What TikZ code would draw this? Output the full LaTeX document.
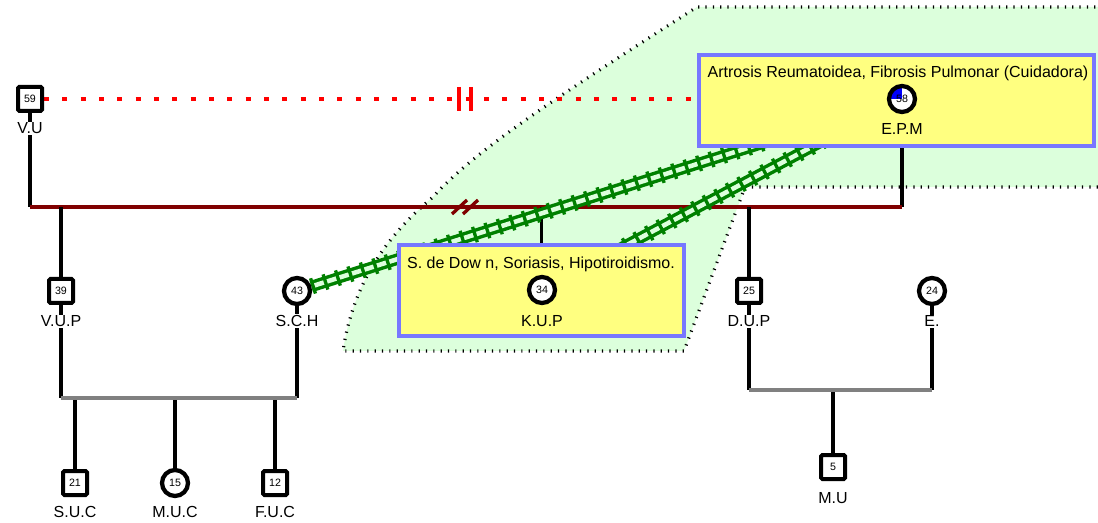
\documentclass[tikz,border=0pt]{standalone}
\usepackage{fontspec}
\setmainfont{Liberation Sans}
\usetikzlibrary{backgrounds}

\definecolor{areagreen}{RGB}{220,255,220}
\definecolor{trackgreen}{RGB}{0,128,0}
\definecolor{boxyellow}{RGB}{255,255,128}
\definecolor{boxblue}{RGB}{119,119,255}
\definecolor{uniondark}{RGB}{128,0,0}
\definecolor{sibsgray}{RGB}{128,128,128}

\tikzset{
  male/.style     = {draw, fill=white, line width=3pt, minimum size=18pt,
                     rounded corners=1pt, inner sep=0pt,
                     font=\fontsize{8}{9}\selectfont},
  female/.style   = {circle, draw, fill=white, line width=3.2pt, minimum size=19.5pt,
                     inner sep=0pt, font=\fontsize{8}{9}\selectfont},
  persname/.style = {anchor=base, fill=white, inner sep=1pt,
                     font=\fontsize{12}{14}\selectfont},
  boxtext/.style  = {anchor=base, inner sep=0pt, font=\fontsize{12}{14}\selectfont},
  illbox/.style   = {draw=boxblue, fill=boxyellow, line width=3pt,
                     minimum height=68.25pt},
  descent/.style  = {line width=2.6pt},
  union/.style    = {draw=uniondark, line width=3pt},
  sibs/.style     = {draw=sibsgray, line width=3pt},
  cutoff/.style   = {draw=red, line width=3pt, dash pattern=on 3.75pt off 10pt},
  cutbar/.style   = {draw=red, line width=3pt},
  splitmark/.style= {draw=uniondark, line width=2.5pt},
  rails/.style    = {draw=trackgreen, line width=2.6pt, double=areagreen,
                     double distance=3.4pt},
  ties/.style     = {draw=trackgreen, line width=12pt,
                     dash pattern=on 2.5pt off 7.3pt},
  grouparea/.style= {fill=areagreen, draw=black, line width=2.4pt,
                     dash pattern=on 0.9pt off 4.6pt}
}

\begin{document}
\begin{tikzpicture}[x=0.75pt, y=-0.75pt]

\useasboundingbox (0,0) rectangle (1098,523);

% generation 1

\node[male] (vu) at (30,99) {59};
\node[persname] (vuL) at (30,134) {V.U};

\node[illbox, minimum width=296pt] (epmbox) at (896.5,100.5) {};
\node[boxtext] (epmtxt) at (898,78) {Artrosis Reumatoidea, Fibrosis Pulmonar (Cuidadora)};
\node[female, path picture={
        \fill[blue] (path picture bounding box.center)
          -- (path picture bounding box.west)
          -- (path picture bounding box.north west)
          -- (path picture bounding box.north) -- cycle;}] (epm) at (902,99) {58};
\node[boxtext] (epmL) at (902,135) {E.P.M};

\coordinate (mL) at (30,207);
\coordinate (mR) at (902,207);

% generation 2

\node[male] (vup) at (61,291) {39};
\node[persname] (vupL) at (61,327) {V.U.P};

\node[female] (sch) at (297,291) {43};
\node[persname] (schL) at (297,327) {S.C.H};

\node[illbox, minimum width=213.75pt] (kupbox) at (541.5,290.5) {};
\node[boxtext] (kuptxt) at (541,269) {S. de Dow n, Soriasis, Hipotiroidismo.};
\node[female] (kup) at (542,290) {34};
\node[boxtext] (kupL) at (542,327) {K.U.P};

\node[male] (dup) at (749,291) {25};
\node[persname] (dupL) at (749,327) {D.U.P};

\node[female] (e) at (932,291) {24};
\node[persname] (eL) at (932,327) {E.};

\coordinate (f1L) at (61,398);
\coordinate (f1R) at (297,398);
\coordinate (f2L) at (749,390);
\coordinate (f2R) at (932,390);

% generation 3

\node[male] (suc) at (75,483) {21};
\node[persname] (sucL) at (75,517) {S.U.C};

\node[female] (muc) at (175,483) {15};
\node[persname] (mucL) at (175,517) {M.U.C};

\node[male] (fuc) at (275,483) {12};
\node[persname] (fucL) at (275,517) {F.U.C};

\node[male] (mu) at (833,467) {5};
\node[persname] (muL) at (833,503) {M.U};

\begin{pgfonlayer}{background}

% household
\draw[grouparea] (1110,7) -- (697,7)
  .. controls (560,95) and (475,150) .. (433,197)
  .. controls (400,225) and (355,270) .. (343,351)
  -- (684,351) -- (745,187) -- (1110,187);

% cut off relation
\draw[cutoff] (vu) -- (epm);
\path (vu) -- (epm) coordinate[pos=.5] (cutM);
\draw[cutbar] (cutM) ++(-6,-12) -- ++(0,24);
\draw[cutbar] (cutM) ++(6,-12) -- ++(0,24);

% marriage
\draw[descent] (vu) -- (mL);
\draw[descent] (epm) -- (mR);
\draw[union] (mL) -- (mR);
\path (mL) -- (mR) coordinate[pos=.5] (sepM);
\draw[splitmark] (sepM) ++(-14,7) -- ++(15,-14);
\draw[splitmark] (sepM) ++(-3,7) -- ++(15,-14);

\draw[descent] (vup) -- (vup |- mL);
\draw[descent] (kupbox.north) -- (kupbox.north |- mL);
\draw[descent] (dup) -- (dup |- mL);

% family of V.U.P
\draw[descent] (vup) -- (f1L);
\draw[descent] (sch) -- (f1R);
\draw[descent] (suc) -- (suc |- f1L);
\draw[descent] (muc) -- (muc |- f1L);
\draw[descent] (fuc) -- (fuc |- f1L);
\draw[sibs] (f1L) -- (f1R);

% family of D.U.P
\draw[descent] (dup) -- (f2L);
\draw[descent] (e) -- (f2R);
\draw[descent] (mu) -- (mu |- f2L);
\draw[sibs] (f2L) -- (f2R);

% hostile relations
\draw[rails] (sch) -- (epm);
\draw[ties] (sch) -- (epm);
\draw[rails] (kup) -- (epm);
\draw[ties] (kup) -- (epm);

\end{pgfonlayer}

\end{tikzpicture}
\end{document}
